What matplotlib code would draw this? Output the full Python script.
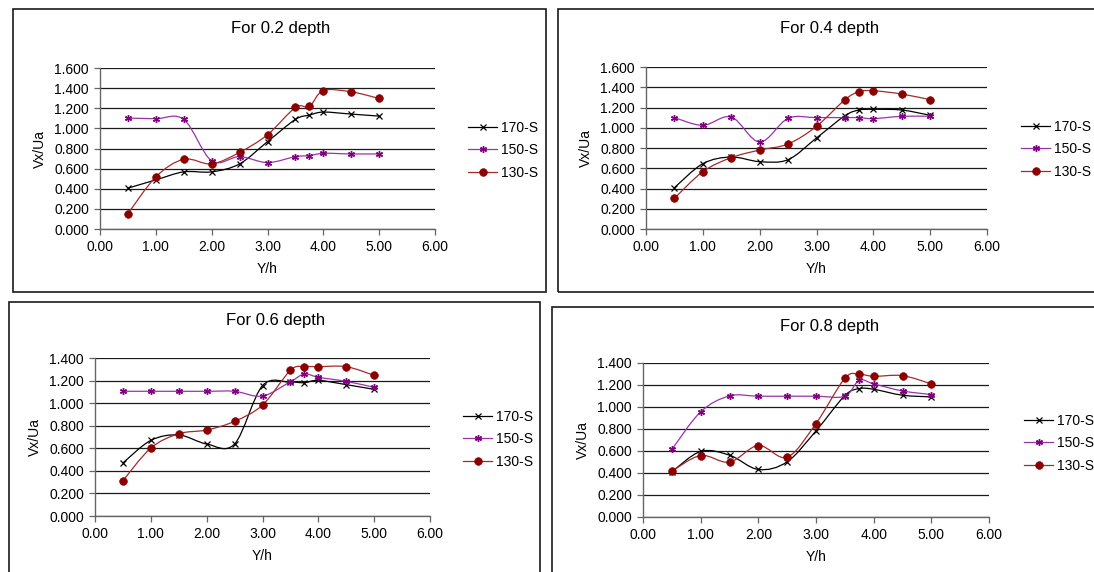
# Vx/Ua against Y/h at four depths, three sections each

import matplotlib
matplotlib.use("Agg")
import matplotlib.pyplot as plt
from matplotlib.path import Path
from matplotlib.patches import PathPatch, Rectangle
from matplotlib.lines import Line2D
from matplotlib.ticker import FormatStrFormatter, MultipleLocator

plt.rcParams['font.family'] = ['Liberation Sans', 'DejaVu Sans']

y_h = [0.5, 1.0, 1.5, 2.0, 2.5, 3.0, 3.5, 3.75, 4.0, 4.5, 5.0]
series_names = ['170-S', '150-S', '130-S']

d02_170 = [0.406, 0.488, 0.568, 0.568, 0.647, 0.868, 1.089, 1.132, 1.162, 1.142, 1.122]
d02_150 = [1.102, 1.096, 1.089, 0.677, 0.719, 0.660, 0.719, 0.729, 0.752, 0.746, 0.746]
d02_130 = [0.152, 0.518, 0.693, 0.647, 0.762, 0.937, 1.208, 1.218, 1.376, 1.363, 1.297]

d04_170 = [0.408, 0.645, 0.711, 0.665, 0.685, 0.899, 1.119, 1.175, 1.182, 1.175, 1.123]
d04_150 = [1.100, 1.024, 1.106, 0.859, 1.093, 1.100, 1.100, 1.100, 1.090, 1.113, 1.113]
d04_130 = [0.303, 0.566, 0.705, 0.780, 0.840, 1.014, 1.277, 1.356, 1.366, 1.333, 1.277]

d06_170 = [0.470, 0.670, 0.718, 0.638, 0.638, 1.155, 1.185, 1.181, 1.202, 1.164, 1.122]
d06_150 = [1.105, 1.105, 1.105, 1.105, 1.105, 1.063, 1.190, 1.258, 1.229, 1.193, 1.140]
d06_130 = [0.313, 0.602, 0.729, 0.762, 0.839, 0.983, 1.291, 1.323, 1.323, 1.323, 1.246]

d08_170 = [0.411, 0.596, 0.562, 0.432, 0.502, 0.783, 1.104, 1.167, 1.161, 1.107, 1.092]
d08_150 = [0.614, 0.956, 1.101, 1.098, 1.098, 1.098, 1.098, 1.243, 1.210, 1.146, 1.113]
d08_130 = [0.417, 0.559, 0.499, 0.650, 0.544, 0.850, 1.261, 1.297, 1.279, 1.285, 1.210]

titles = ['For 0.2 depth', 'For 0.4 depth', 'For 0.6 depth', 'For 0.8 depth']
y_tops = [1.6, 1.6, 1.4, 1.4]

W, H = 1094, 572

# look of each series: line colour, marker, marker colour, marker size
styles = {
    '170-S': dict(color='#000000', marker='x', mfc='#000000', mec='#000000', ms=4, mew=0.9),
    '150-S': dict(color='#9933AA', marker=(6, 2, 0), mfc='#800080', mec='#800080', ms=5, mew=1.0),
    '130-S': dict(color='#A52A2A', marker='o', mfc='#8B0000', mec='#8B0000', ms=5.5, mew=0.5),
}


def fig_rect(x0, y0, x1, y1):
    """pixel box (top-left origin) -> figure fraction [l, b, w, h]"""
    return [x0 / W, 1 - y1 / H, (x1 - x0) / W, (y1 - y0) / H]


def smooth_path(xs, ys):
    """Excel style smoothed line: Catmull-Rom segments as cubic Beziers."""
    pts = list(zip(xs, ys))
    verts = [pts[0]]
    codes = [Path.MOVETO]
    n = len(pts)
    for i in range(n - 1):
        p0 = pts[i - 1] if i > 0 else pts[i]
        p1 = pts[i]
        p2 = pts[i + 1]
        p3 = pts[i + 2] if i + 2 < n else pts[i + 1]
        c1 = (p1[0] + (p2[0] - p0[0]) / 6, p1[1] + (p2[1] - p0[1]) / 6)
        c2 = (p2[0] - (p3[0] - p1[0]) / 6, p2[1] - (p3[1] - p1[1]) / 6)
        verts += [c1, c2, p2]
        codes += [Path.CURVE4] * 3
    return Path(verts, codes)


fig = plt.figure(figsize=(W / 100, H / 100), dpi=100)

# outer frames round each chart
frames = [(13, 9, 546, 292), (558, 9, 1100, 292), (9, 302, 540, 590), (552, 307, 1100, 590)]
for (x0, y0, x1, y1) in frames:
    fig.patches.append(Rectangle((x0 / W, 1 - y1 / H), (x1 - x0) / W, (y1 - y0) / H,
                                 transform=fig.transFigure, fill=False,
                                 edgecolor='#1a1a1a', linewidth=1.2))

# plot areas, title centres, legend anchors (pixels)
plot_boxes = [(100, 68, 435, 229), (646, 67, 987, 229), (95, 358, 430, 516), (643, 363, 989, 517)]
title_pos = [(281, 29), (830, 29), (276, 321), (830, 327)]
legend_pos = [(468, 121), (1021, 120), (463, 410), (1024, 414)]

panel_data = [
    [d02_170, d02_150, d02_130],
    [d04_170, d04_150, d04_130],
    [d06_170, d06_150, d06_130],
    [d08_170, d08_150, d08_130],
]

for k in range(4):
    ax = fig.add_axes(fig_rect(*plot_boxes[k]))
    for name, vals in zip(series_names, panel_data[k]):
        st = styles[name]
        ax.add_patch(PathPatch(smooth_path(y_h, vals), fill=False,
                               edgecolor=st['color'], linewidth=0.9, zorder=3))
        ax.plot(y_h, vals, linestyle='none', marker=st['marker'], markersize=st['ms'],
                markerfacecolor=st['mfc'], markeredgecolor=st['mec'],
                markeredgewidth=st['mew'], zorder=4)

    ax.set_xlim(0, 6)
    ax.set_ylim(0, y_tops[k])
    ax.xaxis.set_major_locator(MultipleLocator(1))
    ax.yaxis.set_major_locator(MultipleLocator(0.2))
    ax.xaxis.set_major_formatter(FormatStrFormatter('%.2f'))
    ax.yaxis.set_major_formatter(FormatStrFormatter('%.3f'))
    ax.tick_params(direction='out', length=4, width=0.9, colors='#000000',
                   labelsize=10, pad=4)
    ax.tick_params(axis='both', color='#666666')
    ax.grid(axis='y', color='#1a1a1a', linewidth=0.9)
    ax.set_axisbelow(True)
    for side in ['top', 'right']:
        ax.spines[side].set_visible(False)
    for side in ['left', 'bottom']:
        ax.spines[side].set_color('#666666')
        ax.spines[side].set_linewidth(1.0)
    ax.set_xlabel('Y/h', fontsize=10, labelpad=6)
    ax.set_ylabel('Vx/Ua', fontsize=10, labelpad=5)

    tx, ty = title_pos[k]
    fig.text(tx / W, 1 - ty / H, titles[k], fontsize=12, ha='center', va='center')

    handles = [Line2D([], [], color=styles[n]['color'], linewidth=0.9,
                      marker=styles[n]['marker'], markersize=styles[n]['ms'],
                      markerfacecolor=styles[n]['mfc'], markeredgecolor=styles[n]['mec'],
                      markeredgewidth=styles[n]['mew']) for n in series_names]
    lx, ly = legend_pos[k]
    ax.legend(handles, series_names, loc='upper left',
              bbox_to_anchor=(lx / W, 1 - ly / H), bbox_transform=fig.transFigure,
              frameon=False, fontsize=10, handlelength=2.1, handletextpad=0.3,
              labelspacing=0.6, borderpad=0, borderaxespad=0)

fig.savefig('out.png', dpi=100)
